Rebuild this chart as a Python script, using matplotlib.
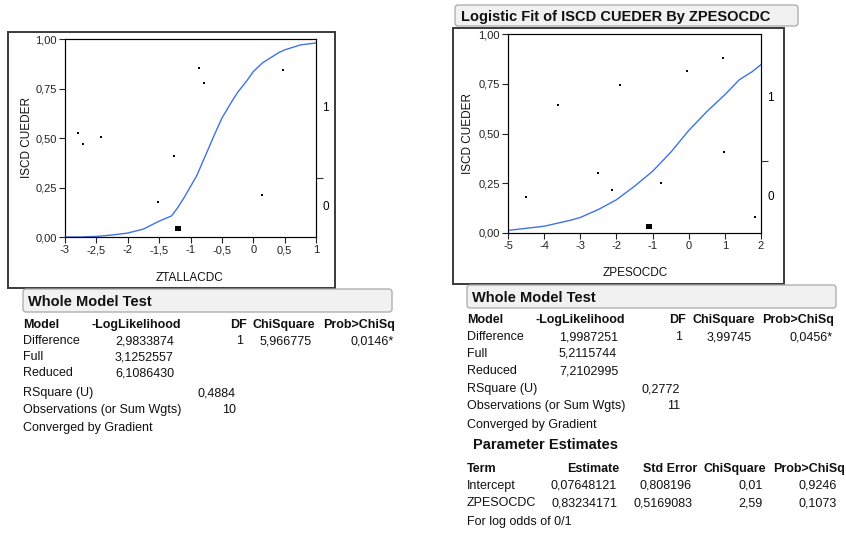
import matplotlib.pyplot as plt
from matplotlib.patches import Rectangle, FancyBboxPatch

plt.rcParams['font.family'] = ['Liberation Sans', 'DejaVu Sans']

W, H = 846, 536

# ---- left panel: ISCD CUEDER by ZTALLACDC ----
talla_x = [-2.80, -2.72, -2.42, -1.52, -1.27, -1.20, -0.86, -0.79, 0.14, 0.48]
talla_y = [0.524, 0.470, 0.504, 0.178, 0.410, 0.044, 0.852, 0.780, 0.212, 0.842]
talla_sel = 5
talla_fit_x = [-3, -2.75, -2.5, -2.25, -2, -1.75, -1.5, -1.3, -1.2, -1.1, -1, -0.9,
               -0.75, -0.6, -0.5, -0.35, -0.25, -0.1, 0, 0.15, 0.25, 0.4, 0.5, 0.75, 1]
talla_fit_y = [0.0, 0.0, 0.003, 0.01, 0.02, 0.04, 0.08, 0.107, 0.15, 0.2, 0.255, 0.31,
               0.42, 0.53, 0.6, 0.68, 0.73, 0.79, 0.835, 0.88, 0.9, 0.93, 0.945, 0.97, 0.98]
talla_split = 0.30
talla_xticks = [-3, -2.5, -2, -1.5, -1, -0.5, 0, 0.5, 1]
talla_xlabels = ['-3', '-2,5', '-2', '-1,5', '-1', '-0,5', '0', '0,5', '1']

# ---- right panel: ISCD CUEDER by ZPESOCDC ----
peso_x = [-4.49, -3.61, -2.52, -2.13, -1.90, -1.10, -0.77, -0.05, 0.94, 0.98, 1.84]
peso_y = [0.179, 0.645, 0.300, 0.214, 0.742, 0.034, 0.251, 0.812, 0.881, 0.405, 0.080]
peso_sel = 5
peso_fit_x = [-5, -4, -3.25, -3, -2.5, -2, -1.5, -1, -0.5, 0, 0.5, 1, 1.4, 1.75, 2]
peso_fit_y = [0.013, 0.034, 0.065, 0.078, 0.118, 0.167, 0.235, 0.31, 0.405, 0.515,
              0.61, 0.695, 0.77, 0.81, 0.846]
peso_split = 0.36
peso_xticks = [-5, -4, -3, -2, -1, 0, 1, 2]
peso_xlabels = ['-5', '-4', '-3', '-2', '-1', '0', '1', '2']

yticks = [0, 0.25, 0.5, 0.75, 1.0]
ylabels = ['0,00', '0,25', '0,50', '0,75', '1,00']

# ---- tables ----
wmt_cols = ['Model', '-LogLikelihood', 'DF', 'ChiSquare', 'Prob>ChiSq']
wmt_rows = ['Difference', 'Full', 'Reduced']
talla_llk = ['2,9833874', '3,1252557', '6,1086430']
talla_test = ['1', '5,966775', '0,0146*']
talla_rsq, talla_n = '0,4884', '10'
peso_llk = ['1,9987251', '5,2115744', '7,2102995']
peso_test = ['1', '3,99745', '0,0456*']
peso_rsq, peso_n = '0,2772', '11'
pe_cols = ['Term', 'Estimate', 'Std Error', 'ChiSquare', 'Prob>ChiSq']
pe_terms = ['Intercept', 'ZPESOCDC']
pe_est = ['0,07648121', '0,83234171']
pe_se = ['0,808196', '0,5169083']
pe_chi = ['0,01', '2,59']
pe_p = ['0,9246', '0,1073']

fig = plt.figure(figsize=(W / 100, H / 100), dpi=100)
bg = fig.add_axes([0, 0, 1, 1])
bg.set_xlim(0, W)
bg.set_ylim(H, 0)
bg.axis('off')


def txt(x, y, s, ha='left', size=9, bold=False, **kw):
    bg.text(x, y, s, ha=ha, va='center', fontsize=size,
            fontweight='bold' if bold else 'normal', color='#111111', **kw)


def header_box(x0, y0, x1, y1, label, lx):
    bg.add_patch(FancyBboxPatch((x0, y0), x1 - x0, y1 - y0,
                                boxstyle='round,pad=0,rounding_size=3',
                                fc='#f1f1f1', ec='#a8a8a8', lw=0.9))
    txt(lx, (y0 + y1) / 2 + 1, label, size=10.5, bold=True)


def panel(frame, axbox, xs, ys, sel, fx, fy, split, xt, xl, xlim, xname, lab_pos, xlab_pos):
    x0, y0, x1, y1 = frame
    bg.add_patch(Rectangle((x0, y0), x1 - x0, y1 - y0, fc='white', ec='#3a3a3a', lw=1.4))
    l, t, r, b = axbox
    ax = fig.add_axes([l / W, 1 - b / H, (r - l) / W, (b - t) / H])
    ax.plot(fx, fy, color='#3f72e8', lw=1.0)
    sizes = [14 if i == sel else 2 for i in range(len(xs))]
    ax.scatter(xs, ys, s=sizes, marker='s', color='black', linewidths=0, zorder=3)
    ax.set_xlim(*xlim)
    ax.set_ylim(0, 1)
    ax.set_xticks(xt)
    ax.set_xticklabels(xl)
    ax.set_yticks(yticks)
    ax.set_yticklabels(ylabels)
    ax.tick_params(direction='out', length=4, width=0.8, labelsize=8, pad=2,
                   colors='#222222')
    for sp in ax.spines.values():
        sp.set_linewidth(0.8)
        sp.set_color('#333333')
    ax2 = ax.twinx()
    ax2.set_ylim(0, 1)
    ax2.set_yticks([split])
    ax2.set_yticklabels([''])
    ax2.tick_params(direction='out', length=5, width=0.8, colors='#333333')
    ax2.text(1.025, split / 2, '0', transform=ax2.transAxes, va='center', fontsize=8.5)
    ax2.text(1.025, (1 + split) / 2, '1', transform=ax2.transAxes, va='center', fontsize=8.5)
    txt(lab_pos[0], lab_pos[1], 'ISCD CUEDER', ha='center', size=8.5, rotation=90)
    txt(xlab_pos[0], xlab_pos[1], xname, ha='center', size=8.5)
    return ax


panel((8, 32, 335, 288), (65, 39, 316, 237), talla_x, talla_y, talla_sel,
      talla_fit_x, talla_fit_y, talla_split, talla_xticks, talla_xlabels, (-3, 1),
      'ZTALLACDC', (27, 138), (190, 278))

header_box(455, 5, 798, 26, 'Logistic Fit of ISCD CUEDER By ZPESOCDC', 461)
panel((453, 28, 784, 284), (508, 34, 761, 233), peso_x, peso_y, peso_sel,
      peso_fit_x, peso_fit_y, peso_split, peso_xticks, peso_xlabels, (-5, 2),
      'ZPESOCDC', (468, 133), (635, 273))


def whole_model(dx, box_y, y_head, dy_rows, llk, test, rsq, n, colx):
    header_box(dx, box_y, dx + 369, box_y + 23, 'Whole Model Test', dx + 5)
    m, ll, df, chi, p = colx
    txt(dx, y_head, wmt_cols[0], bold=True)
    txt(dx + ll, y_head, wmt_cols[1], bold=True)
    txt(dx + df, y_head, wmt_cols[2], ha='right', bold=True)
    txt(dx + chi, y_head, wmt_cols[3], ha='right', bold=True)
    txt(dx + p, y_head, wmt_cols[4], ha='right', bold=True)
    for i, name in enumerate(wmt_rows):
        y = y_head + dy_rows[i]
        txt(dx, y, name)
        txt(dx + 92, y, llk[i])
    y = y_head + dy_rows[0]
    txt(dx + df - 4, y, test[0], ha='right')
    txt(dx + chi - 3, y, test[1], ha='right')
    txt(dx + p - 1, y, test[2], ha='right')
    txt(dx, y_head + dy_rows[3], 'RSquare (U)')
    txt(dx + 213, y_head + dy_rows[3], rsq, ha='right')
    txt(dx, y_head + dy_rows[4], 'Observations (or Sum Wgts)')
    txt(dx + 213, y_head + dy_rows[4], n, ha='right')
    txt(dx, y_head + dy_rows[5], 'Converged by Gradient')


whole_model(23, 289, 325, [16, 32, 48, 68, 85, 103], talla_llk, talla_test,
            talla_rsq, talla_n, (0, 69, 224, 292, 372))
whole_model(467, 285, 320, [17, 34, 51, 69, 86, 105], peso_llk, peso_test,
            peso_rsq, peso_n, (0, 68, 219, 288, 367))

# Parameter Estimates
txt(473, 445, 'Parameter Estimates', size=10.5, bold=True)
txt(467, 469, pe_cols[0], bold=True)
txt(619, 469, pe_cols[1], ha='right', bold=True)
txt(697, 469, pe_cols[2], ha='right', bold=True)
txt(766, 469, pe_cols[3], ha='right', bold=True)
txt(845, 469, pe_cols[4], ha='right', bold=True)
for i, term in enumerate(pe_terms):
    y = 486 + 17 * i
    txt(467, y, term)
    txt(617, y, pe_est[i], ha='right')
    txt(692, y, pe_se[i], ha='right')
    txt(763, y, pe_chi[i], ha='right')
    txt(837, y, pe_p[i], ha='right')
txt(467, 522, 'For log odds of 0/1')

fig.savefig('out.png', dpi=100)
